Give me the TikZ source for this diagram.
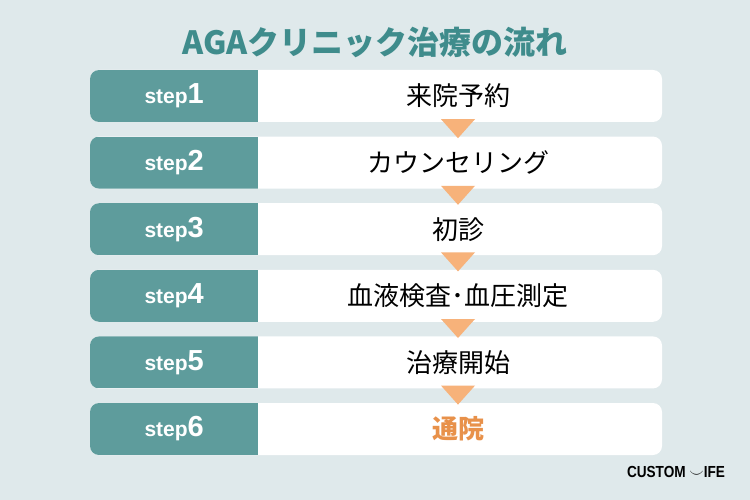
\documentclass[tikz,border=0pt]{standalone}
\usepackage{fontspec}
\setmainfont{Liberation Sans}
\newfontfamily\jpfont{Noto Sans CJK JP}
\usetikzlibrary{positioning}
\definecolor{bgcol}{HTML}{DFE9EB}
\definecolor{tealcol}{HTML}{5E9C9C}
\definecolor{titlecol}{HTML}{3F8C8C}
\definecolor{arrowcol}{HTML}{F7B27A}
\definecolor{lastcol}{HTML}{E8914A}
\tikzset{
  rowbox/.style={fill=white, rounded corners=9pt, minimum width=572pt, minimum height=52pt, inner sep=0pt},
  stepbox/.style={fill=tealcol, minimum width=168pt, minimum height=52pt, inner sep=0pt, text=white, font=\bfseries},
  itemtext/.style={font=\jpfont\fontsize{26}{28}\selectfont}
}
\begin{document}
\begin{tikzpicture}[x=1pt,y=-1pt]
    % background
    \fill[bgcol] (0,0) rectangle (750,500);
    \useasboundingbox (0,0) rectangle (750,500);

    \node[text=titlecol, font=\jpfont\bfseries\fontsize{32}{34}\selectfont] (title) at (375,42) {AGAクリニック治療の流れ};

    % rows
    \foreach \i/\item [count=\n] in {1/来院予約, 2/カウンセリング, 3/初診, 4/血液検査･血圧測定, 5/治療開始, 6/通院} {
        \pgfmathsetmacro{\ytop}{70+(\n-1)*66.6}
        \node[rowbox] (row\i) at (376,\ytop+26) {};
        \begin{scope}
            \clip[rounded corners=9pt] (90,\ytop) rectangle (662,\ytop+52);
            \node[stepbox, anchor=west] (step\i) at (90,\ytop+26)
                {\fontsize{21}{22}\selectfont step\fontsize{29}{30}\selectfont\i};
        \end{scope}
        \ifnum\n=6
            \node[itemtext, text=lastcol, font=\jpfont\bfseries\fontsize{26}{28}\selectfont] (item\i) at (458,\ytop+26) {\item};
        \else
            \node[itemtext] (item\i) at (458,\ytop+26) {\item};
        \fi
    }

    % arrows between rows
    \foreach \i in {1,...,5} {
        \fill[arrowcol] ([xshift=-17pt,yshift=3pt]row\i.south -| item\i) -- ([xshift=17pt,yshift=3pt]row\i.south -| item\i)
            -- ([yshift=-16pt]row\i.south -| item\i) -- cycle;
    }

    \node[anchor=east, font=\bfseries\fontsize{16}{18}\selectfont, text=black, xscale=0.85] (logo) at (728,472) {CUSTOM $\smile$IFE};
\end{tikzpicture}
\end{document}
